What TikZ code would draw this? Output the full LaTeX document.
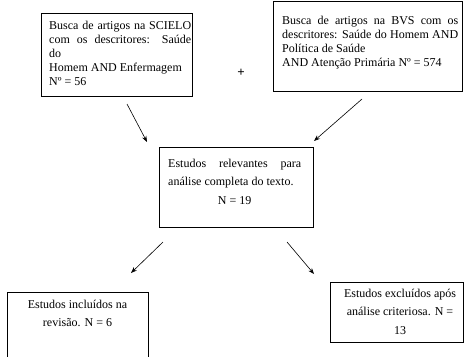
\documentclass[tikz,border=0pt]{standalone}
\usepackage{fontspec}
\setmainfont{Liberation Serif}
\usetikzlibrary{arrows.meta}
\begin{document}
\begin{tikzpicture}[x=1pt,y=-1pt,
  box/.style={draw,line width=0.8pt,inner sep=0pt,anchor=north west},
  txtj/.style={inner sep=0pt,anchor=north west,align=justify,font=\fontsize{12}{14}\selectfont},
  txtc/.style={inner sep=0pt,anchor=north,align=center,font=\fontsize{12}{18.5}\selectfont},
  arr/.style={line width=0.6pt,-{Stealth[length=6pt,width=4.5pt]}}]
\useasboundingbox (0,0) rectangle (465,356);
% boxes
\node[box,minimum width=151pt,minimum height=83pt] (b1) at (41,13) {};
\node[box,minimum width=189pt,minimum height=90pt] (b2) at (273,1) {};
\node[box,minimum width=154pt,minimum height=80pt] (b3) at (159,147) {};
\node[box,minimum width=141pt,minimum height=80pt] (b4) at (7,292) {};
\node[box,minimum width=133pt,minimum height=60pt] (b5) at (330,282) {};
% texts
\node[txtj,text width=142pt] (t1) at (49,20.5) {Busca de artigos na SCIELO com os descritores: Saúde\linebreak do\\ Homem AND Enfermagem\\ Nº = 56};
\node[txtj,text width=176pt] (t2) at (282,16) {Busca de artigos na BVS com os\linebreak descritores: Saúde do Homem AND\linebreak Política de Saúde\\ AND Atenção Primária Nº = 574};
\node[txtj,text width=133pt,font=\fontsize{12}{18.5}\selectfont] (t3) at (168,158.5) {Estudos relevantes para\linebreak análise completa do texto.\\ \makebox[133pt]{N = 19}};
\node[txtc] (t4) at (77.5,299.5) {Estudos incluídos na\\ revisão. N = 6};
\node[txtc] (t5) at (400,288.5) {Estudos excluídos após\\ análise criteriosa. N =\\ 13};
\node[inner sep=0pt,font=\fontsize{13}{14}\selectfont\bfseries] (plus) at (241,73) {+};
% connector ends
\coordinate (a1s) at (127,104); \coordinate (a1e) at (147,142);
\coordinate (a2s) at (362,99);  \coordinate (a2e) at (314,141);
\coordinate (a3s) at (163,242); \coordinate (a3e) at (131,273);
\coordinate (a4s) at (287,242); \coordinate (a4e) at (314,274);
\draw[arr] (a1s) -- (a1e);
\draw[arr] (a2s) -- (a2e);
\draw[arr] (a3s) -- (a3e);
\draw[arr] (a4s) -- (a4e);
\end{tikzpicture}
\end{document}
